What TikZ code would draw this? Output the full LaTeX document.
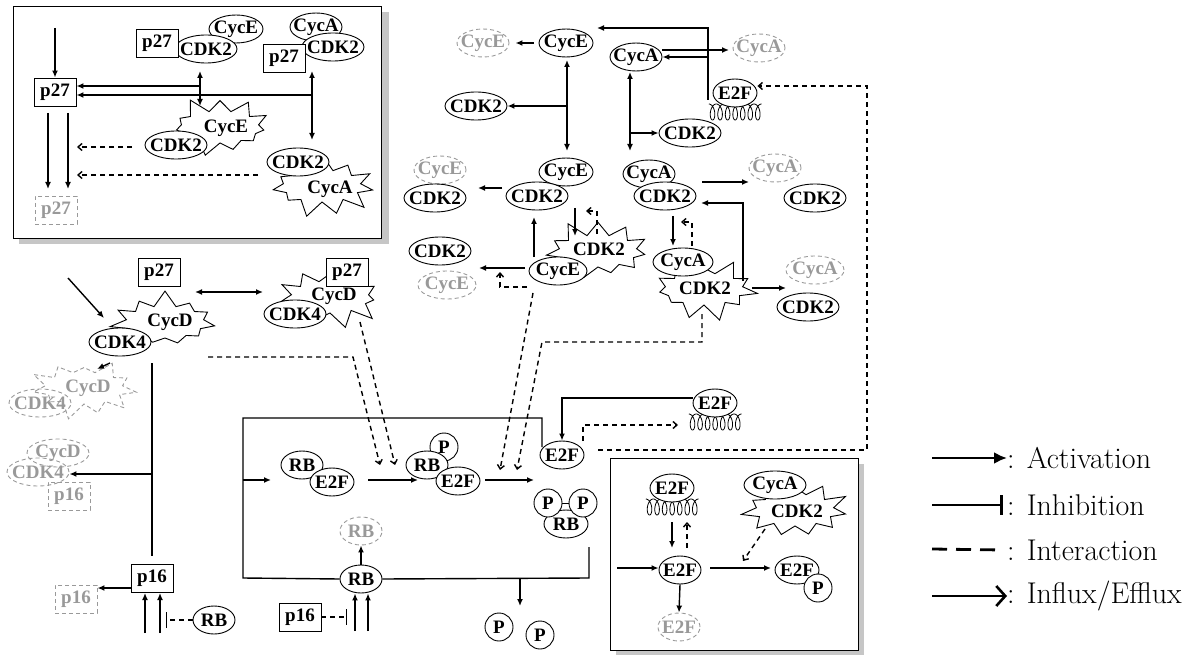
\documentclass[tikz,border=0pt]{standalone}
\usepackage{fontspec}
\newfontfamily\molfont{Liberation Serif}
\usetikzlibrary{shapes.geometric,shapes.symbols,arrows.meta}
\definecolor{ghost}{gray}{0.6}
\tikzset{
  mtxt/.style={font=\molfont\bfseries\fontsize{19}{19}\selectfont},
  mol/.style={ellipse, draw=black, fill=white, line width=0.9pt, inner xsep=-12pt, inner ysep=-5pt, minimum height=28pt, minimum width=#1, mtxt},
  mol/.default=44pt,
  gmol/.style={ellipse, draw=ghost, dash pattern=on 4pt off 3pt, line width=0.9pt, inner xsep=-12pt, inner ysep=-5pt, minimum height=28pt, minimum width=#1, mtxt, text=ghost},
  gmol/.default=44pt,
  pbox/.style={rectangle, draw, fill=white, line width=0.9pt, minimum width=42pt, minimum height=28pt, inner sep=0pt, mtxt},
  gbox/.style={rectangle, draw=ghost, dash pattern=on 4pt off 3pt, line width=0.9pt, minimum width=42pt, minimum height=28pt, inner sep=0pt, mtxt, text=ghost},
  pcirc/.style={circle, draw, fill=white, line width=0.9pt, minimum size=28pt, inner sep=0pt, mtxt},
  burst/.style={starburst, draw, fill=white, line width=0.9pt, inner sep=0pt, starburst points=11, starburst point height=17pt, random starburst=#1, minimum width=112pt, minimum height=66pt},
  gburst/.style={burst=#1, draw=ghost, fill=none, dash pattern=on 4pt off 3pt},
  lbl/.style={mtxt, inner sep=0pt},
  glbl/.style={lbl, text=ghost},
  panel/.style={rectangle, draw, fill=white, line width=0.9pt, inner sep=0pt},
  ln/.style={line width=1.4pt},
  act/.style={ln, -{Latex[length=7pt,width=6pt]}},
  dact/.style={ln, {Latex[length=7pt,width=6pt]}-{Latex[length=7pt,width=6pt]}},
  itr/.style={ln, dash pattern=on 5pt off 4pt, -{Straight Barb[length=4pt,width=7pt]}},
  inh/.style={ln, dash pattern=on 5pt off 4pt, -{Bar[width=16pt]}},
  coilline/.style={line width=0.8pt},
  legtxt/.style={font=\fontsize{30}{32}\selectfont, anchor=west, inner sep=0pt},
}
% spring drawn below an E2F: #1 = centre x, #2 = top y
\newcommand{\mspring}[2]{\draw[coilline] plot[domain=3.1416:47.124, samples=320, smooth] ({#1-30+1.2*\x-4*sin(\x r)},{#2+8+8*cos(\x r)});}
\begin{document}
\begin{tikzpicture}[x=1pt,y=-1pt]
\useasboundingbox (0,0) rectangle (1199,655);
% ---------- top-left panel ----------
\fill[gray!45] (19,12) rectangle (389,244);
\node[panel, minimum width=368pt, minimum height=232pt] (boxA) at (197,122) {};
\node[pbox] (pA) at (55,92) {p27};
\coordinate (inA) at (55,28);
\draw[act] (inA) -- (pA.north);
\node[mol=54pt] (eA1) at (236,29) {CycE};
\node[mol=62pt] (kA1) at (206,49) {CDK2};
\node[pbox] (pA1) at (157,43) {p27};
\node[mol=52pt] (aA2) at (316,27) {CycA};
\node[mol=62pt] (kA2) at (333,47) {CDK2};
\node[pbox] (pA2) at (284,58) {p27};
\node[burst=5] (sA3) at (220,127) {};
\node[lbl] (tA3) at (226,128) {CycE};
\node[mol=62pt] (kA3) at (176,145) {CDK2};
\node[burst=7] (sA4) at (322,186) {};
\node[lbl] (tA4) at (330,189) {CycA};
\node[mol=62pt] (kA4) at (298,162) {CDK2};
\coordinate (vA1t) at (200,71); \coordinate (vA1b) at (200,106);
\draw[dact] (vA1t) -- (vA1b);
\coordinate (vA2t) at (312,71); \coordinate (vA2b) at (312,140);
\draw[dact] (vA2t) -- (vA2b);
\coordinate (jA1) at (200,86); \coordinate (jA2) at (312,95);
\draw[act] (jA1) -- (jA1 -| pA.east);
\draw[act] (jA2) -- (jA2 -| pA.east);
\node[gbox] (gpA) at (56,210) {p27};
\coordinate (dA1s) at (48,113); \coordinate (dA1e) at (48,189);
\coordinate (dA2s) at (68,113); \coordinate (dA2e) at (68,189);
\draw[act] (dA1s) -- (dA1e);
\draw[act] (dA2s) -- (dA2e);
\coordinate (xA3s) at (132,147); \coordinate (xA3e) at (77,147);
\coordinate (xA4s) at (258,175); \coordinate (xA4e) at (77,175);
\draw[itr] (xA3s) -- (xA3e);
\draw[itr] (xA4s) -- (xA4e);
% ---------- top middle ----------
\node[gmol=52pt] (gE1) at (483,43) {CycE};
\node[mol=54pt] (E1) at (566,43) {CycE};
\draw[act, shorten <=5pt, shorten >=6pt] (E1.west) -- (gE1.east);
\node[mol=62pt] (K1) at (476,106) {CDK2};
\coordinate (vE1t) at (567,60); \coordinate (vE1b) at (567,151);
\draw[dact] (vE1t) -- (vE1b);
\coordinate (bE1) at (567,106);
\draw[act] (bE1) -- (K1.east);
\node[mol=52pt] (A1) at (636,57) {CycA};
\node[gmol=52pt] (gA1) at (759,48) {CycA};
\coordinate (aA1s) at (662,50); \coordinate (aA1e) at (729,50);
\draw[act] (aA1s) -- (aA1e);
\mspring{735}{104}
\node[mol=44pt] (F1) at (735,93) {E2F};
\coordinate (F1a) at (708,100); \coordinate (F1b) at (708,28); \coordinate (F1c) at (597,28);
\draw[act] (F1a) -- (F1b) -- (F1c);
\coordinate (F1d) at (708,57);
\draw[act] (F1d) -- (F1d -| A1.east);
\node[mol=62pt] (K2) at (690,133) {CDK2};
\coordinate (vA1t2) at (630,72); \coordinate (vA1b2) at (630,151);
\draw[dact] (vA1t2) -- (vA1b2);
\coordinate (bA1) at (630,133);
\draw[act] (bA1) -- (K2.west);
% ---------- second row ----------
\node[gmol=52pt] (gE2) at (440,170) {CycE};
\node[mol=62pt] (K3) at (435,198) {CDK2};
\node[mol=54pt] (E2) at (566,172) {CycE};
\node[mol=62pt] (K4) at (537,196) {CDK2};
\coordinate (aE2s) at (502,188); \coordinate (aE2e) at (478,188);
\draw[act] (aE2s) -- (aE2e);
\node[mol=52pt] (A2) at (649,174) {CycA};
\node[mol=62pt] (K5) at (665,196) {CDK2};
\coordinate (aA2s) at (702,182); \coordinate (aA2e) at (749,182);
\draw[act] (aA2s) -- (aA2e);
\node[gmol=52pt] (gA2) at (775,168) {CycA};
\node[mol=62pt] (K6) at (815,198) {CDK2};
% ---------- third row ----------
\node[mol=62pt] (K7) at (440,251) {CDK2};
\node[gmol=58pt] (gE3) at (447,285) {CycE};
\node[burst=11] (S1) at (598,251) {};
\node[lbl] (tS1) at (599,249) {CDK2};
\node[mol=58pt] (E3) at (558,271) {CycE};
\coordinate (aE3s) at (525,268); \coordinate (aE3e) at (479,268);
\draw[act] (aE3s) -- (aE3e);
\coordinate (dE3a) at (527,287); \coordinate (dE3b) at (500,287); \coordinate (dE3c) at (500,272);
\draw[itr] (dE3a) -- (dE3b) -- (dE3c);
\coordinate (uE3s) at (534,257); \coordinate (uE3e) at (534,217);
\draw[act] (uE3s) -- (uE3e);
\coordinate (dnE2s) at (575,208); \coordinate (dnE2e) at (575,236);
\draw[act] (dnE2s) -- (dnE2e);
\coordinate (rS1a) at (597,234); \coordinate (rS1b) at (597,211); \coordinate (rS1c) at (586,211);
\draw[itr] (rS1a) -- (rS1b) -- (rS1c);
\node[burst=13] (S2) at (704,289) {};
\node[lbl] (tS2) at (705,288) {CDK2};
\node[mol=60pt] (A3) at (683,262) {CycA};
\coordinate (dnA2s) at (673,216); \coordinate (dnA2e) at (673,246);
\draw[act] (dnA2s) -- (dnA2e);
\coordinate (rS2a) at (692,246); \coordinate (rS2b) at (692,222); \coordinate (rS2c) at (681,222);
\draw[itr] (rS2a) -- (rS2b) -- (rS2c);
\coordinate (aS2s) at (752,288); \coordinate (aS2e) at (786,288);
\draw[act] (aS2s) -- (aS2e);
\node[gmol=58pt] (gA3) at (815,270) {CycA};
\node[mol=62pt] (K8) at (808,307) {CDK2};
\coordinate (uS2a) at (743,281); \coordinate (uS2b) at (743,203); \coordinate (uS2c) at (701,203);
\draw[act] (uS2a) -- (uS2b) -- (uS2c);
% ---------- left middle ----------
\node[pbox] (pL1) at (159,272) {p27};
\coordinate (inD) at (68,278); \coordinate (inDe) at (104,318);
\draw[act] (inD) -- (inDe);
\node[burst=17] (SD1) at (165,322) {};
\node[lbl] (tSD1) at (170,322) {CycD};
\node[mol=62pt] (D1k) at (120,342) {CDK4};
\coordinate (bL1) at (195,292); \coordinate (bL2) at (263,292);
\draw[dact] (bL1) -- (bL2);
\node[burst=19] (SD2) at (330,297) {};
\node[lbl] (tSD2) at (334,296) {CycD};
\node[mol=62pt] (D2k) at (295,314) {CDK4};
\node[pbox] (pL2) at (347,272) {p27};
\node[gburst=23] (gSD) at (84,388) {};
\node[glbl] (tgSD) at (88,388) {CycD};
\node[gmol=62pt] (gD1k) at (40,403) {CDK4};
\coordinate (gAs) at (110,363); \coordinate (gAe) at (97,369);
\draw[act] (gAs) -- (gAe);
\coordinate (lv1) at (152,363); \coordinate (lv2) at (152,556);
\draw[ln] (lv1) -- (lv2);
\coordinate (lv3) at (152,474);
\node[gmol=62pt] (gD2) at (58,453) {CycD};
\node[gmol=62pt] (gK2) at (38,472) {CDK4};
\node[gbox] (gp16a) at (69,496) {p16};
\draw[act] (lv3) -- (lv3 -| gK2.east);
\node[pbox] (p16a) at (152,578) {p16};
\node[gbox] (gp16b) at (76,599) {p16};
\coordinate (ap16) at (131,588);
\draw[act] (ap16) -- (ap16 -| gp16b.east);
\coordinate (up1s) at (145,633); \coordinate (up1e) at (145,593);
\coordinate (up2s) at (160,633); \coordinate (up2e) at (160,593);
\draw[act] (up1s) -- (up1e);
\draw[act] (up2s) -- (up2e);
\node[mol=42pt] (rbA) at (214,620) {RB};
\coordinate (ihAe) at (166,620);
\draw[inh] (rbA.west) -- (ihAe);
% ---------- bottom middle ----------
\coordinate (lp1) at (542,447); \coordinate (lp2) at (542,418); \coordinate (lp3) at (243,418);
\coordinate (lp4) at (243,578);
\node[mol=42pt] (RBd) at (361,579) {RB};
\coordinate (lp5) at (589,578); \coordinate (lp6) at (589,547);
\draw[ln] (lp1) -- (lp2) -- (lp3) -- (lp4) -- (RBd.west);
\draw[ln] (RBd.east) -- (lp5) -- (lp6);
\coordinate (lpa) at (243,480); \coordinate (lpae) at (271,480);
\draw[act] (lpa) -- (lpae);
\node[mol=42pt] (RBa) at (302,465) {RB};
\node[mol=44pt] (E2Fa) at (332,482) {E2F};
\coordinate (a1s) at (368,480); \coordinate (a1e) at (418,480);
\draw[act] (a1s) -- (a1e);
\node[pcirc] (Pb) at (444,447) {P};
\node[mol=42pt] (RBb) at (427,465) {RB};
\node[mol=44pt] (E2Fb) at (458,481) {E2F};
\coordinate (a2s) at (485,480); \coordinate (a2e) at (534,480);
\draw[act] (a2s) -- (a2e);
\node[mol=44pt] (E2Fm) at (562,455) {E2F};
\node[mol=44pt] (RBc) at (566,524) {RB};
\node[pcirc] (Pc1) at (548,503) {P};
\node[pcirc] (Pc2) at (583,503) {P};
\draw[line width=0.9pt] (Pc1.east) -- (Pc2.west);
\coordinate (dP) at (520,578); \coordinate (dPe) at (520,606);
\draw[act] (dP) -- (dPe);
\node[pcirc] (Pd1) at (499,627) {P};
\node[pcirc] (Pd2) at (540,635) {P};
\node[gmol=42pt] (gRB) at (361,531) {RB};
\draw[act] (RBd.north) -- (gRB.south);
\node[pbox] (p16b) at (300,617) {p16};
\coordinate (ihBe) at (347,617);
\draw[inh] (p16b.east) -- (ihBe);
\coordinate (up3s) at (355,631); \coordinate (up4s) at (368,631);
\draw[act] (up3s) -- (up3s |- RBd.south);
\draw[act] (up4s) -- (up4s |- RBd.south);
% E2F with spring (middle right)
\mspring{715}{414}
\node[mol=44pt] (F2) at (715,403) {E2F};
\coordinate (f2a) at (562,398);
\draw[act] (F2.west |- f2a) -- (f2a) -- (E2Fm.north);
\coordinate (f2b) at (583,441); \coordinate (f2c) at (583,425); \coordinate (f2d) at (678,425);
\draw[itr] (f2b) -- (f2c) -- (f2d);
\coordinate (lg1) at (867,450); \coordinate (lg2) at (867,86);
\draw[itr, shorten <=14pt] (E2Fm.east |- lg1) -- (lg1) -- (lg2) -- (F1.east |- lg2);
% long dashed interactions
\coordinate (dS2a) at (702,314); \coordinate (dS2b) at (702,342); \coordinate (dS2c) at (542,342);
\coordinate (dS2d) at (517,470);
\draw[itr] (dS2a) -- (dS2b) -- (dS2c) -- (dS2d);
\coordinate (dE3s) at (533,293); \coordinate (dE3e) at (500,470);
\draw[itr] (dE3s) -- (dE3e);
\coordinate (dD1a) at (208,357); \coordinate (dD1b) at (353,357); \coordinate (dD1c) at (380,465);
\draw[itr] (dD1a) -- (dD1b) -- (dD1c);
\coordinate (dD2a) at (360,322); \coordinate (dD2b) at (395,465);
\draw[itr] (dD2a) -- (dD2b);
% ---------- bottom-right panel ----------
\fill[gray!45] (616,464) rectangle (864,655);
\node[panel, minimum width=248pt, minimum height=192pt] (boxB) at (734,554) {};
\mspring{672}{499}
\node[mol=44pt] (F3) at (672,488) {E2F};
\coordinate (b1s) at (672,522); \coordinate (b1e) at (672,548);
\draw[act] (b1s) -- (b1e);
\coordinate (b2s) at (687,548); \coordinate (b2e) at (687,522);
\draw[itr] (b2s) -- (b2e);
\node[mol=42pt] (E2Fn) at (680,570) {E2F};
\coordinate (b3s) at (617,568);
\draw[act] (b3s) -- (b3s -| E2Fn.west);
\node[gmol=42pt] (gE2Fn) at (679,627) {E2F};
\draw[act] (E2Fn.south) -- (gE2Fn.north);
\node[mol=44pt] (E2Fp) at (797,570) {E2F};
\node[pcirc] (Pp) at (818,588) {P};
\coordinate (b4s) at (710,568); \coordinate (b4e) at (771,568);
\draw[act] (b4s) -- (b4e);
\node[burst=29] (S3) at (795,510) {};
\node[lbl] (tS3) at (797,511) {CDK2};
\node[mol=62pt] (A4) at (775,485) {CycA};
\coordinate (b5s) at (765,529); \coordinate (b5e) at (743,561);
\draw[itr] (b5s) -- (b5e);
% ---------- legend ----------
\node[legtxt] (L1) at (1007,458) {: Activation};
\node[legtxt] (L2) at (1007,505) {: Inhibition};
\node[legtxt] (L3) at (1007,550) {: Interaction};
\node[legtxt] (L4) at (1007,596) {: Influx/Efflux};
\coordinate (L1s) at (932,458); \coordinate (L2s) at (932,505);
\coordinate (L3s) at (932,549); \coordinate (L4s) at (932,596);
\draw[line width=2.8pt, -{Latex[length=13pt,width=12pt]}] (L1s) -- (L1.west);
\draw[line width=2.8pt, -{Bar[width=20pt]}] (L2s) -- ([xshift=-4pt]L2.west);
\draw[line width=2.8pt, dash pattern=on 15pt off 9pt] (L3s) -- ([xshift=-4pt]L3.west);
\draw[line width=2.6pt, -{Straight Barb[length=9pt,width=20pt]}] (L4s) -- (L4.west);
\end{tikzpicture}
\end{document}
